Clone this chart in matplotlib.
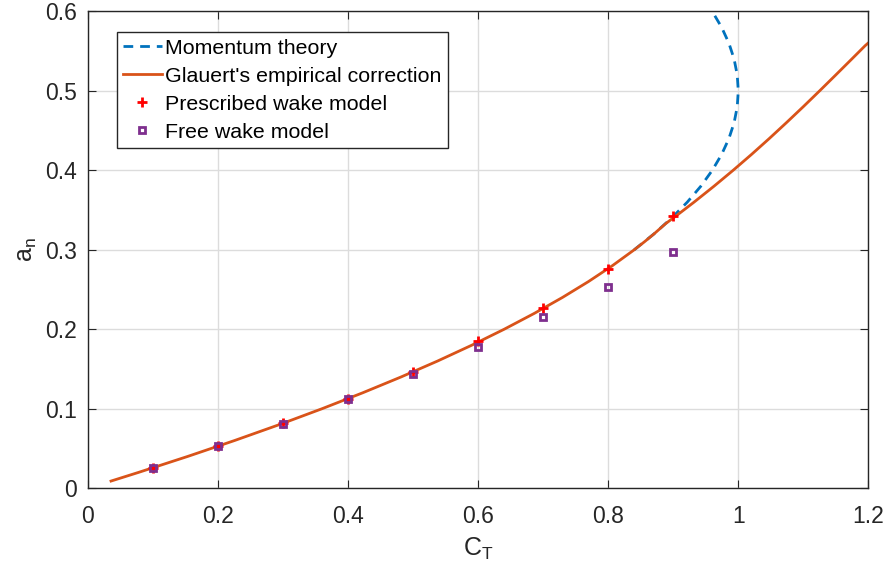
import matplotlib.pyplot as plt
from matplotlib.ticker import FormatStrFormatter

plt.rcParams['font.family'] = ['Liberation Sans', 'DejaVu Sans']
plt.rcParams['mathtext.fontset'] = 'custom'
plt.rcParams['mathtext.rm'] = 'Liberation Sans'

# momentum theory, upper part (CT, a)
mom_ct = [0.84, 0.8704, 0.8976, 0.9216, 0.9424, 0.96, 0.9744, 0.9856, 0.9936,
          0.9984, 1.0, 0.9984, 0.9936, 0.9856, 0.9744, 0.96]
mom_a = [0.30, 0.32, 0.34, 0.36, 0.38, 0.40, 0.42, 0.44, 0.46,
         0.48, 0.50, 0.52, 0.54, 0.56, 0.58, 0.60]

# Glauert's empirical correction (CT, a)
gl_ct = [0.0357, 0.0784, 0.1536, 0.2256, 0.2944, 0.36, 0.4224, 0.4816, 0.5376,
         0.5904, 0.64, 0.6864, 0.7296, 0.7696, 0.8064, 0.84, 0.8556, 0.8704,
         0.8884, 0.9081, 0.9161, 0.932, 0.9626, 0.992, 1.0203, 1.0476, 1.074,
         1.0998, 1.125, 1.1498, 1.1744, 1.1952, 1.2]
gl_a = [0.009, 0.02, 0.04, 0.06, 0.08, 0.10, 0.12, 0.14, 0.16,
        0.18, 0.20, 0.22, 0.24, 0.26, 0.28, 0.30, 0.31, 0.32,
        0.333, 0.345, 0.35, 0.36, 0.38, 0.40, 0.42, 0.44, 0.46,
        0.48, 0.50, 0.52, 0.54, 0.557, 0.5604]

ct_pts = [0.1, 0.2, 0.3, 0.4, 0.5, 0.6, 0.7, 0.8, 0.9]
a_prescribed = [0.026, 0.053, 0.082, 0.112, 0.146, 0.185, 0.227, 0.276, 0.343]
a_free = [0.025, 0.053, 0.081, 0.112, 0.144, 0.178, 0.215, 0.253, 0.297]

fig = plt.figure(figsize=(8.87, 5.71), dpi=100)
ax = fig.add_axes([0.099, 0.145, 0.88, 0.835])

ax.plot(mom_ct, mom_a, '--', color='#0072BD', lw=2, dashes=(3.5, 2.5), label='Momentum theory')
ax.plot(gl_ct, gl_a, '-', color='#D95319', lw=2, label="Glauert's empirical correction")
ax.plot(ct_pts, a_prescribed, '+', color='red', ms=7, mew=2, ls='none', label='Prescribed wake model')
ax.plot(ct_pts, a_free, 's', mfc='none', mec='#7E2F8E', ms=5, mew=2, ls='none', label='Free wake model')

ax.set_xlim(0, 1.2)
ax.set_ylim(0, 0.6)
ax.set_xticks([0, 0.2, 0.4, 0.6, 0.8, 1.0, 1.2])
ax.set_yticks([0, 0.1, 0.2, 0.3, 0.4, 0.5, 0.6])
ax.xaxis.set_major_formatter(FormatStrFormatter('%g'))
ax.yaxis.set_major_formatter(FormatStrFormatter('%g'))
ax.grid(True, color='#dcdcdc', lw=1)
ax.set_axisbelow(True)
ax.tick_params(direction='in', length=6, labelsize=16.5, colors='#262626',
               top=True, right=True, pad=8)
ax.tick_params(axis='x', pad=12)
for s in ax.spines.values():
    s.set_color('#262626')
    s.set_linewidth(1)

ax.set_xlabel(r'$\mathregular{C_T}$', fontsize=18, color='#262626', labelpad=6)
ax.set_ylabel(r'$\mathregular{a_n}$', fontsize=18, color='#262626')

leg = ax.legend(loc='upper left', bbox_to_anchor=(0.037, 0.956), fontsize=15.4,
                handlelength=1.8, handletextpad=0.15, borderpad=0.3,
                labelspacing=0.42, fancybox=False, framealpha=1, borderaxespad=0)
leg.get_frame().set_edgecolor('#262626')
leg.get_frame().set_linewidth(1)

fig.savefig('out.png', dpi=100)
